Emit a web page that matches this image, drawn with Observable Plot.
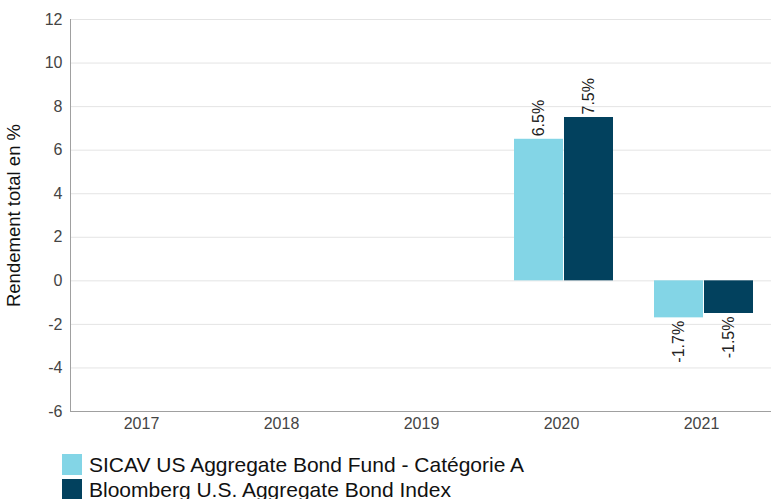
<!DOCTYPE html>
<html>
<head>
<meta charset="utf-8">
<script src="https://cdn.jsdelivr.net/npm/d3@7"></script>
<script src="https://cdn.jsdelivr.net/npm/@observablehq/plot@0.6"></script>
<style>
  html, body { margin: 0; padding: 0; background: #fff; }
  body { width: 771px; height: 499px; overflow: hidden; font-family: "Liberation Sans", Arial, sans-serif; }
  #chart svg { display: block; }
  #legend { margin-left: 62px; margin-top: 12px; }
  .item { display: flex; align-items: center; height: 25px; font-size: 21px; color: #111; white-space: nowrap; }
  .sw { width: 20px; height: 21px; margin-right: 7px; flex: none; }
</style>
</head>
<body>
<div id="chart"></div>
<div id="legend"></div>
<script>
const years = ["2017", "2018", "2019", "2020", "2021"];
const seriesNames = ["SICAV US Aggregate Bond Fund - Catégorie A", "Bloomberg U.S. Aggregate Bond Index"];
const fundValues = [null, null, null, 6.5, -1.7];
const indexValues = [null, null, null, 7.5, -1.5];
const yTicks = [-6, -4, -2, 0, 2, 4, 6, 8, 10, 12];
const colors = ["#83d5e6", "#02415e"];

const rowsA = years.map((y, i) => ({year: y, value: fundValues[i]})).filter(d => d.value != null);
const rowsB = years.map((y, i) => ({year: y, value: indexValues[i]})).filter(d => d.value != null);
const fmt = d => d.value.toFixed(1) + "%";

function labels(rows, dx) {
  return [
    Plot.text(rows, {filter: d => d.value >= 0, x: "year", y: "value", text: fmt, rotate: -90, textAnchor: "start", lineAnchor: "middle", dx, dy: -3, fontSize: 16, fill: "#222"}),
    Plot.text(rows, {filter: d => d.value < 0, x: "year", y: "value", text: fmt, rotate: -90, textAnchor: "end", lineAnchor: "middle", dx, dy: 3, fontSize: 16, fill: "#222"})
  ];
}

const chart = Plot.plot({
  width: 771,
  height: 440,
  marginLeft: 70,
  marginRight: 0,
  marginTop: 19,
  marginBottom: 29,
  style: {fontFamily: "Liberation Sans, Arial, sans-serif", background: "#fff"},
  x: {domain: years, padding: 0, label: null},
  y: {domain: [-6, 12], label: null},
  marks: [
    Plot.gridY(yTicks, {stroke: "#e4e4e4", strokeOpacity: 1}),
    Plot.barY(rowsA, {x: "year", y: "value", fill: colors[0], insetLeft: 23, insetRight: 68}),
    Plot.barY(rowsB, {x: "year", y: "value", fill: colors[1], insetLeft: 73, insetRight: 18}),
    ...labels(rowsA, -22.5),
    ...labels(rowsB, 27.5),
    Plot.ruleY([-6], {stroke: "#a0a0a0"}),
    Plot.frame({anchor: "left", stroke: "#a0a0a0"}),
    Plot.axisY(yTicks, {tickSize: 0, tickPadding: 8, fontSize: 16, color: "#444", label: null, tickFormat: d => String(d)}),
    Plot.axisX({tickSize: 0, tickPadding: 6, fontSize: 16, color: "#444", label: null}),
    Plot.text(["Rendement total en %"], {frameAnchor: "left", rotate: -90, textAnchor: "middle", dx: -56, fontSize: 18.5, fill: "#111"})
  ]
});
document.getElementById("chart").appendChild(chart);

const legend = document.getElementById("legend");
seriesNames.forEach((name, i) => {
  const item = document.createElement("div");
  item.className = "item";
  const sw = document.createElement("span");
  sw.className = "sw";
  sw.style.background = colors[i];
  const t = document.createElement("span");
  t.textContent = name;
  item.appendChild(sw);
  item.appendChild(t);
  legend.appendChild(item);
});
</script>
</body>
</html>
